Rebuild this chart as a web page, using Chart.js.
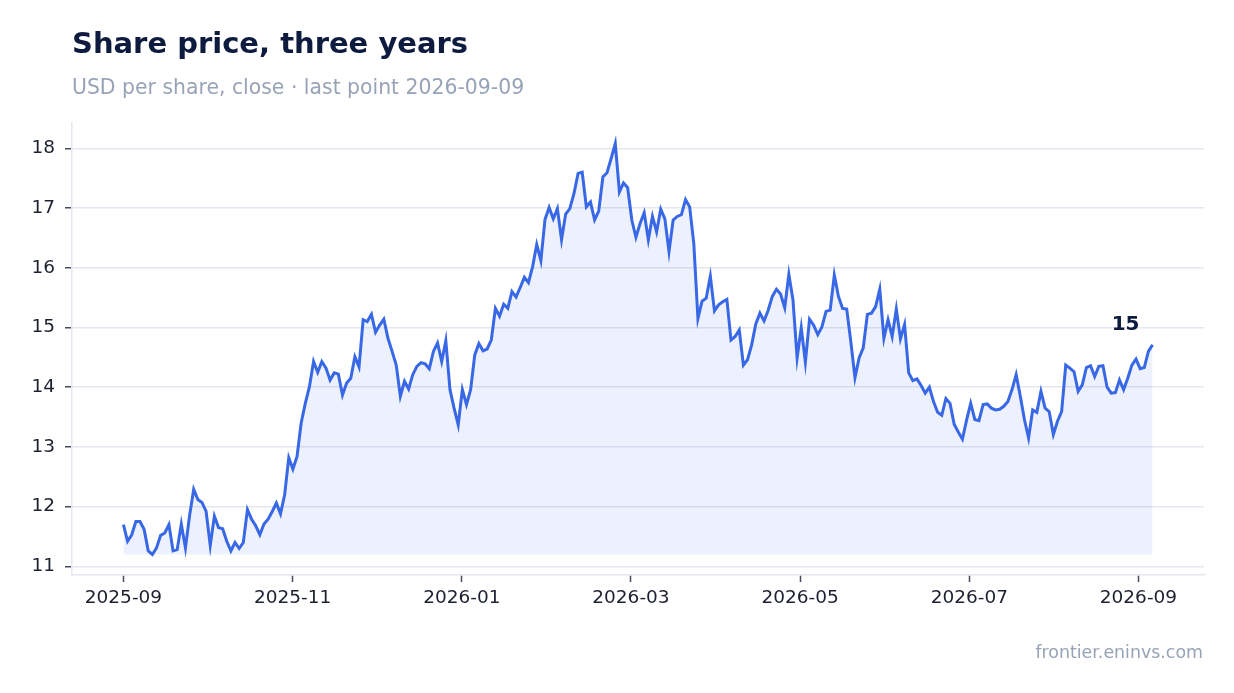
<!DOCTYPE html>
<html>
<head>
<meta charset="utf-8">
<script src="https://cdn.jsdelivr.net/npm/chart.js@4/dist/chart.umd.min.js"></script>
<style>
  body { margin: 0; background: #fff; }
  .wrap { position: relative; width: 1234px; height: 693px; font-family: "DejaVu Sans", sans-serif; }
  .title { position: absolute; left: 72px; top: 29px; font-size: 29px; line-height: 1; font-weight: bold; color: #0d1b3e; white-space: nowrap; }
  .subtitle { position: absolute; left: 72px; top: 77px; font-size: 20.4px; line-height: 1; color: #97a3b6; white-space: nowrap; }
  .footer { position: absolute; right: 31px; top: 644px; font-size: 17.4px; line-height: 1; color: #97a3b6; white-space: nowrap; }
  canvas { position: absolute; left: 0; top: 0; }
</style>
</head>
<body>
<div class="wrap">
  <canvas id="priceChart" width="1234" height="693"></canvas>
  <div class="title">Share price, three years</div>
  <div class="subtitle">USD per share, close · last point 2026-09-09</div>
  <div class="footer">frontier.eninvs.com</div>
</div>
<script>
// closing prices, evenly spaced from firstDate to lastDate
let firstDate = "2025-09-01";
let lastDate = "2026-09-06";
let prices = [
  11.70, 11.42, 11.53, 11.75, 11.75, 11.62, 11.26, 11.20, 11.31, 11.52,
  11.56, 11.70, 11.26, 11.28, 11.71, 11.31, 11.85, 12.29, 12.12, 12.07,
  11.92, 11.35, 11.84, 11.65, 11.63, 11.42, 11.26, 11.40, 11.30, 11.40,
  11.95, 11.79, 11.68, 11.53, 11.71, 11.79, 11.92, 12.06, 11.88, 12.20,
  12.82, 12.63, 12.84, 13.40, 13.73, 14.01, 14.43, 14.25, 14.43, 14.32,
  14.12, 14.24, 14.22, 13.87, 14.07, 14.15, 14.51, 14.34, 15.13, 15.10,
  15.22, 14.92, 15.04, 15.14, 14.82, 14.60, 14.37, 13.85, 14.10, 13.97,
  14.21, 14.35, 14.41, 14.39, 14.31, 14.60, 14.74, 14.43, 14.78, 13.96,
  13.65, 13.37, 13.96, 13.71, 13.96, 14.54, 14.73, 14.61, 14.64, 14.79,
  15.32, 15.19, 15.39, 15.32, 15.60, 15.51, 15.67, 15.84, 15.75, 16.02,
  16.39, 16.12, 16.81, 17.01, 16.82, 16.99, 16.47, 16.90, 16.99, 17.24,
  17.58, 17.60, 17.02, 17.10, 16.80, 16.95, 17.52, 17.59, 17.83, 18.08,
  17.27, 17.42, 17.34, 16.80, 16.51, 16.74, 16.92, 16.47, 16.86, 16.60,
  16.98, 16.82, 16.27, 16.80, 16.86, 16.89, 17.14, 17.02, 16.41, 15.15,
  15.44, 15.49, 15.86, 15.28, 15.38, 15.43, 15.47, 14.79, 14.85, 14.96,
  14.37, 14.46, 14.71, 15.06, 15.24, 15.11, 15.29, 15.52, 15.64, 15.56,
  15.33, 15.89, 15.46, 14.49, 15.00, 14.42, 15.14, 15.04, 14.88, 15.01,
  15.27, 15.29, 15.88, 15.52, 15.32, 15.31, 14.76, 14.16, 14.49, 14.66,
  15.22, 15.24, 15.35, 15.64, 14.82, 15.13, 14.85, 15.31, 14.81, 15.05,
  14.24, 14.11, 14.14, 14.03, 13.90, 14.00, 13.76, 13.58, 13.53, 13.81,
  13.73, 13.38, 13.25, 13.13, 13.45, 13.73, 13.46, 13.44, 13.71, 13.72,
  13.65, 13.62, 13.63, 13.68, 13.76, 13.96, 14.21, 13.85, 13.46, 13.15,
  13.62, 13.58, 13.93, 13.65, 13.59, 13.21, 13.43, 13.59, 14.37, 14.32,
  14.26, 13.93, 14.04, 14.33, 14.36, 14.18, 14.35, 14.36, 14.00, 13.90,
  13.91, 14.12, 13.96, 14.15, 14.37, 14.47, 14.31, 14.33, 14.60, 14.71,
];
let xTickLabels = ["2025-09", "2025-11", "2026-01", "2026-03", "2026-05", "2026-07", "2026-09"];
let yTicks = [11, 12, 13, 14, 15, 16, 17, 18];

// x position in months since firstDate (day of month as a fraction)
let monthsFrom = (s) => {
  let [y, m, d] = s.split("-").map(Number);
  let [y0, m0] = firstDate.split("-").map(Number);
  return (y - y0) * 12 + (m - m0) + ((d || 1) - 1) / 30;
};
let span = monthsFrom(lastDate);
let xTickPos = xTickLabels.map((m) => monthsFrom(m));
let points = prices.map((v, i) => ({ x: (i * span) / (prices.length - 1), y: v }));

let minPrice = Math.min(...prices);
let maxPrice = Math.max(...prices);
let yPad = (maxPrice - minPrice) * 0.05;
let xPad = span * 0.05;

let lastLabel = {
  id: "lastLabel",
  afterDatasetsDraw(chart) {
    let meta = chart.getDatasetMeta(0);
    let pt = meta.data[meta.data.length - 1];
    let ctx = chart.ctx;
    ctx.save();
    ctx.font = "bold 20px 'DejaVu Sans'";
    ctx.fillStyle = "#0d1b3e";
    ctx.textAlign = "center";
    ctx.textBaseline = "middle";
    ctx.fillText(String(Math.round(prices[prices.length - 1])), pt.x - 27, pt.y - 20);
    ctx.restore();
  },
};

const ctx = document.getElementById("priceChart").getContext("2d");
const priceChart = new Chart(ctx, {
  type: "line",
  data: {
    datasets: [
      {
        data: points,
        borderColor: "#3868e6",
        borderWidth: 3,
        backgroundColor: "rgba(56,104,230,0.09)",
        fill: { value: minPrice },
        pointRadius: 0,
        tension: 0,
      },
    ],
  },
  options: {
    responsive: false,
    animation: false,
    layout: { padding: { left: 0, top: 123, right: 30, bottom: 0 } },
    plugins: { legend: { display: false }, tooltip: { enabled: false } },
    scales: {
      x: {
        type: "linear",
        min: -xPad,
        max: span + xPad,
        afterFit: (scale) => { scale.height = 118; },
        afterBuildTicks: (scale) => { scale.ticks = xTickPos.map((p) => ({ value: p })); },
        ticks: {
          autoSkip: false,
          maxRotation: 0,
          padding: 5,
          color: "#1b2130",
          font: { family: "DejaVu Sans", size: 18.5 },
          callback: (v) => xTickLabels[xTickPos.indexOf(v)],
        },
        grid: { drawOnChartArea: false, drawTicks: true, tickLength: 7, tickColor: "#454b5a", tickWidth: 1.5 },
        border: { display: true, color: "#e3e8f0", width: 1.5 },
      },
      y: {
        min: minPrice - yPad,
        max: maxPrice + yPad,
        afterFit: (scale) => { scale.width = 72; },
        afterBuildTicks: (scale) => { scale.ticks = yTicks.map((v) => ({ value: v })); },
        ticks: {
          padding: 10,
          color: "#1b2130",
          font: { family: "DejaVu Sans", size: 18.5 },
        },
        grid: { color: "#e3e8f0", lineWidth: 1.5, tickLength: 7, tickColor: "#454b5a", tickWidth: 1.5 },
        border: { display: true, color: "#e3e8f0", width: 1.5 },
      },
    },
  },
  plugins: [lastLabel],
});
</script>
</body>
</html>
